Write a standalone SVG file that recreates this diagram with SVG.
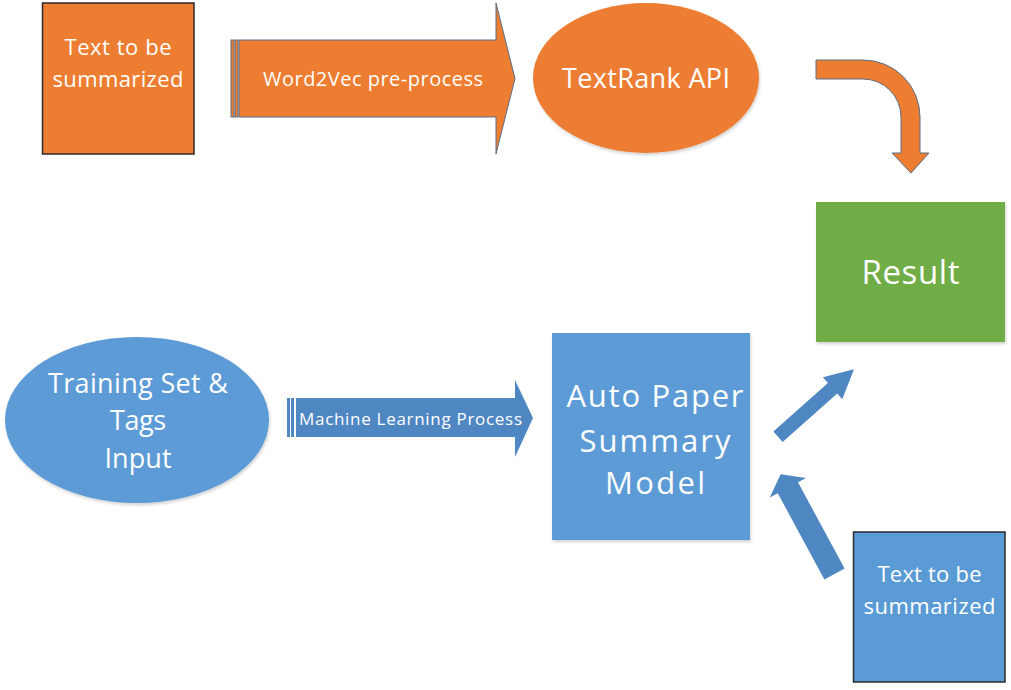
<svg xmlns="http://www.w3.org/2000/svg" width="1011" height="690" viewBox="0 0 1011 690">
<defs>
<filter id="sh" x="-10%" y="-10%" width="130%" height="130%">
<feDropShadow dx="1" dy="2" stdDeviation="1.5" flood-color="#000" flood-opacity="0.18"/>
</filter>
</defs>
<style>
.t{font-family:"Open Sans","Liberation Sans",sans-serif;fill:#ffffff;text-anchor:middle}
.or{fill:#ED7D31}
.bl{fill:#5B9BD5}
.ab{fill:#4F87C3}
.gr{fill:#70AD47}
.ol{stroke:#5a6e86;stroke-width:1}
.bd{stroke:#2a2a2a;stroke-width:1.5}
</style>
<rect width="1011" height="690" fill="#ffffff"/>

<g id="text-top">
<rect class="or bd" x="42.5" y="3" width="151.5" height="151"/>
<text class="t" x="118" y="55" font-size="22" textLength="107">Text to be</text>
<text class="t" x="118" y="87" font-size="22" textLength="131">summarized</text>
</g>

<g id="textrank">
<ellipse class="or" cx="646" cy="78" rx="113" ry="75" filter="url(#sh)"/>
<text class="t" x="646" y="88" font-size="27" textLength="168">TextRank API</text>
</g>

<g id="result">
<rect class="gr" x="816" y="202" width="189" height="140" filter="url(#sh)"/>
<text class="t" x="910.5" y="284" font-size="33" textLength="98">Result</text>
</g>

<g id="training">
<ellipse class="bl" cx="137" cy="420" rx="132" ry="83" filter="url(#sh)"/>
<text class="t" x="138" y="393" font-size="27" textLength="180">Training Set &amp;</text>
<text class="t" x="138" y="430" font-size="27" textLength="56">Tags</text>
<text class="t" x="138" y="468" font-size="27" textLength="67">Input</text>
</g>

<g id="model">
<rect class="bl" x="552" y="333" width="198" height="207" filter="url(#sh)"/>
<text class="t" x="655" y="407" font-size="31" textLength="177">Auto Paper</text>
<text class="t" x="655" y="452" font-size="31" textLength="151">Summary</text>
<text class="t" x="655" y="494" font-size="31" textLength="100">Model</text>
</g>

<g id="text-bottom">
<rect class="bl bd" x="853.5" y="532" width="151.5" height="150"/>
<text class="t" x="929.5" y="582" font-size="22" textLength="104">Text to be</text>
<text class="t" x="929.5" y="614" font-size="22" textLength="132">summarized</text>
</g>

<g id="connectors">
<g id="word2vec-arrow">
<rect class="or ol" x="231" y="40" width="3" height="77"/>
<rect class="or ol" x="235" y="40" width="3" height="77"/>
<path class="or ol" d="M239,40 L496,40 L496,3 L515,78.5 L496,154 L496,117 L239,117 Z"/>
<text class="t" x="373" y="86" font-size="20" textLength="220">Word2Vec pre-process</text>
</g>
<path id="bent-arrow" class="or ol" d="M816,60 L863,60 A57,57 0 0 1 920,117 L920,153 L929,153 L911,173 L892,153 L901,153 L901,117 A38,38 0 0 0 863,79 L816,79 Z"/>
<g id="ml-arrow">
<rect class="ab" x="287" y="398" width="3" height="39"/>
<rect class="ab" x="291" y="398" width="3" height="39"/>
<path class="ab" d="M296,398 L515,398 L515,380 L533,418 L515,457 L515,437 L296,437 Z"/>
<text class="t" x="410.5" y="425" font-size="17" textLength="223">Machine Learning Process</text>
</g>
<path id="to-result" class="ab" transform="translate(778,436.7) rotate(-41.6)" d="M0,-7 L73,-7 L73,-14.6 L101.6,0 L73,14.6 L73,7 L0,7 Z"/>
<path id="to-model" class="ab" transform="translate(834.5,574) rotate(-118.4)" d="M0,-11.5 L98,-11.5 L98,-20.6 L113.3,0 L98,20.6 L98,11.5 L0,11.5 Z"/>
</g>
</svg>
